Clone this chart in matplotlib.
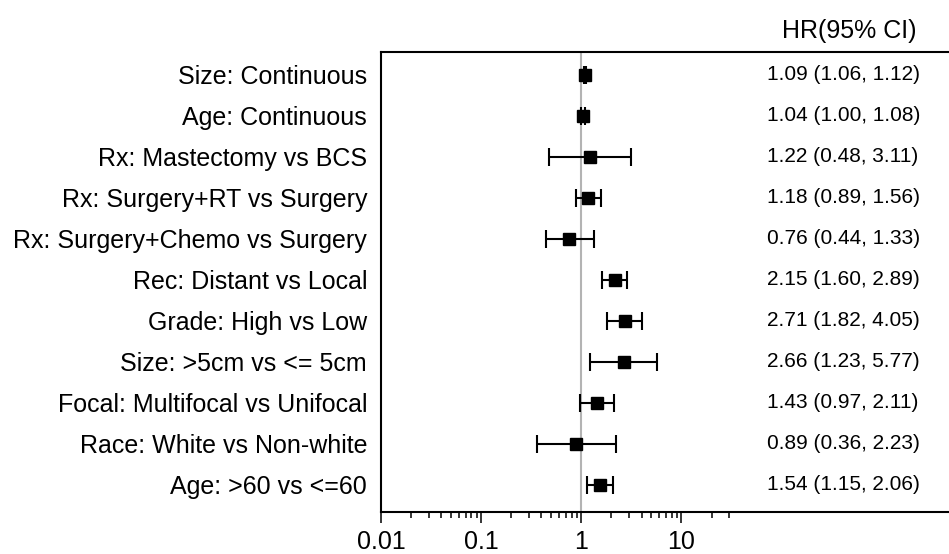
import numpy as np
import matplotlib.pyplot as plt
from matplotlib.ticker import FixedLocator, NullFormatter

plt.rcParams['font.family'] = ['Liberation Sans', 'DejaVu Sans']

# data (top to bottom)
labels = [
    'Size: Continuous',
    'Age: Continuous',
    'Rx: Mastectomy vs BCS',
    'Rx: Surgery+RT vs Surgery',
    'Rx: Surgery+Chemo vs Surgery',
    'Rec: Distant vs Local',
    'Grade: High vs Low',
    'Size: >5cm vs <= 5cm',
    'Focal: Multifocal vs Unifocal',
    'Race: White vs Non-white',
    'Age: >60 vs <=60',
]
hr = [1.09, 1.04, 1.22, 1.18, 0.76, 2.15, 2.71, 2.66, 1.43, 0.89, 1.54]
lower = [1.06, 1.00, 0.48, 0.89, 0.44, 1.60, 1.82, 1.23, 0.97, 0.36, 1.15]
upper = [1.12, 1.08, 3.11, 1.56, 1.33, 2.89, 4.05, 5.77, 2.11, 2.23, 2.06]

major_ticks = [0.01, 0.1, 1, 10]
major_labels = ['0.01', '0.1', '1', '10']

hr = np.array(hr)
lower = np.array(lower)
upper = np.array(upper)
n = len(labels)
y = np.arange(n)

fig = plt.figure(figsize=(9.49, 5.54), dpi=100)
ax = fig.add_axes([381 / 949, 42 / 554, 1 - 381 / 949, 460 / 554])

# reference line at HR = 1
ax.axvline(1, color='#b3b3b3', lw=1.5, zorder=1)

ax.errorbar(hr, y, xerr=[hr - lower, upper - hr], fmt='s', color='black',
            ms=9, elinewidth=1.5, capsize=6.5, capthick=1.5, zorder=3)

# HR text column
for yi, h, lo, up in zip(y, hr, lower, upper):
    ax.text(0.6796, yi, f'{h:.2f} ({lo:.2f}, {up:.2f})', transform=ax.get_yaxis_transform(),
            ha='left', va='center', fontsize=15)
fig.text(849 / 949, 1 - 31 / 554, 'HR(95% CI)', ha='center', va='center', fontsize=18)

ax.set_xscale('log')
ax.set_xlim(0.01, 10 ** 3.673)
ax.set_ylim(n - 1 + 0.66, -0.56)

ax.xaxis.set_major_locator(FixedLocator(major_ticks))
ax.set_xticklabels(major_labels)
minor = [m * d for d in [0.01, 0.1, 1] for m in range(2, 10)] + [20, 30]
ax.xaxis.set_minor_locator(FixedLocator(minor))
ax.xaxis.set_minor_formatter(NullFormatter())
ax.tick_params(axis='x', which='major', length=8, width=1.1, labelsize=18, pad=5)
ax.tick_params(axis='x', which='minor', length=4.5, width=1.1)

ax.set_yticks(y)
ax.set_yticklabels(labels)
ax.tick_params(axis='y', length=0, labelsize=18, pad=10)

ax.spines['right'].set_visible(False)
for s in ['left', 'top', 'bottom']:
    ax.spines[s].set_linewidth(1.5)

fig.savefig('out.png', dpi=100)
